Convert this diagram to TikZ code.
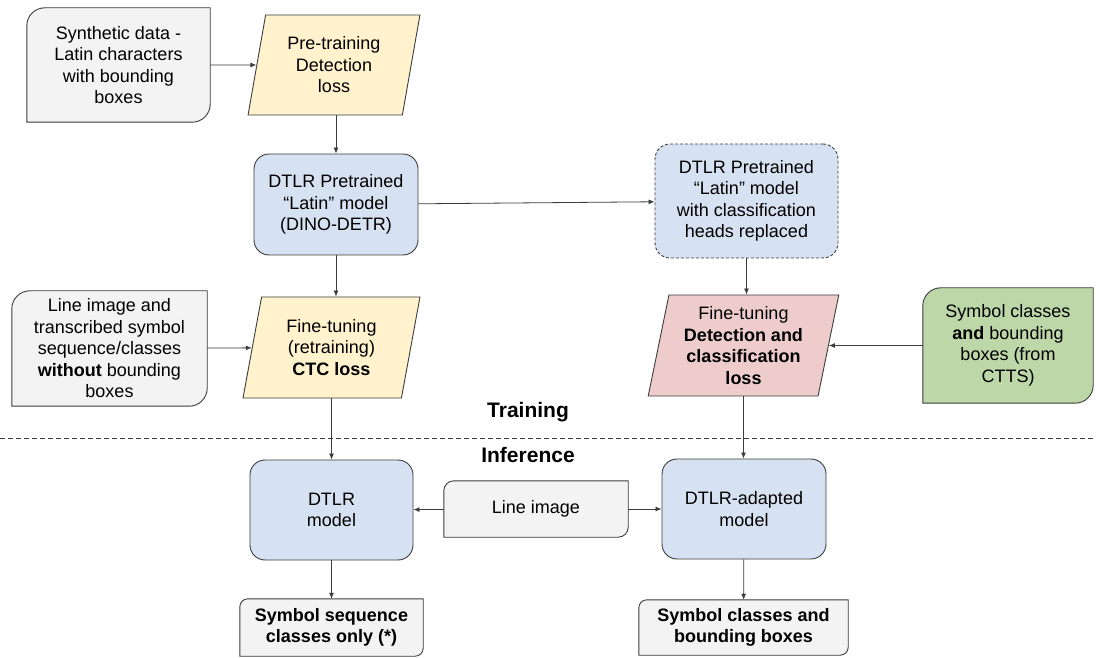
\documentclass[tikz,border=0pt]{standalone}
\usepackage{fontspec}
\setmainfont{Liberation Sans}
\usetikzlibrary{shapes.geometric,arrows.meta,backgrounds}

\definecolor{lineclr}{HTML}{3C3C3C}
\definecolor{grayfill}{HTML}{F3F3F3}
\definecolor{yelfill}{HTML}{FFF2CC}
\definecolor{bluefill}{HTML}{D6E2F2}
\definecolor{redfill}{HTML}{EECCCC}
\definecolor{grnfill}{HTML}{BDD7A9}

\tikzset{
  every node/.style={font=\fontsize{18}{21.5}\selectfont, align=center, text=black},
  boxline/.style={draw=lineclr, line width=0.9pt},
  inbox/.style={rectangle, draw=none, inner sep=0pt},
  para/.style={trapezium, trapezium left angle=78, trapezium right angle=102,
    trapezium stretches=true, boxline, inner sep=0pt},
  model/.style={rectangle, rounded corners=15pt, boxline, fill=bluefill, inner sep=0pt},
  arr/.style={draw=lineclr, line width=0.8pt, -{Latex[length=6pt,width=5pt]}},
  sepline/.style={draw=lineclr, line width=0.8pt, dash pattern=on 5pt off 3pt},
  phase/.style={font=\fontsize{21}{25}\selectfont\bfseries},
}

% box with rounded top-left and bottom-right corners, drawn behind a node
\newcommand{\rdbox}[3]{%
  \begin{pgfonlayer}{background}
    \filldraw[boxline, fill=#3] (#1.south west) -- ([yshift=-#2]#1.north west)
      arc[start angle=180, end angle=90, radius=#2] -- (#1.north east)
      -- ([yshift=#2]#1.south east) arc[start angle=0, end angle=-90, radius=#2] -- cycle;
  \end{pgfonlayer}}

\begin{document}
\begin{tikzpicture}[x=1pt,y=1pt]
\useasboundingbox (0,0) rectangle (1096,657);

% training: pre-training branch
\node[inbox, minimum width=183pt, minimum height=114pt] (syn) at (118.5,592)
  {Synthetic data -\\Latin characters\\with bounding\\boxes};
\rdbox{syn}{18pt}{grayfill}
\node[para, fill=yelfill, minimum width=172pt, minimum height=100pt] (pre) at (334,592)
  {Pre-training\\Detection\\loss};
\node[model, minimum width=164pt, minimum height=101pt] (dpre) at (336,452.5)
  {DTLR Pretrained\\“Latin” model\\(DINO-DETR)};
\node[model, dash pattern=on 3pt off 2pt, minimum width=183pt, minimum height=114pt] (drep) at (746.5,456)
  {DTLR Pretrained\\“Latin” model\\with classification\\heads replaced};

% training: fine-tuning
\node[inbox, minimum width=195pt, minimum height=115pt] (lin1) at (109.5,308.5)
  {Line image and\\transcribed symbol\\sequence/classes\\\textbf{without} bounding\\boxes};
\rdbox{lin1}{18pt}{grayfill}
\node[para, fill=yelfill, minimum width=177pt, minimum height=101pt] (ctc) at (331.5,309.5)
  {Fine-tuning\\(retraining)\\\textbf{CTC loss}};
\node[para, fill=redfill, minimum width=191pt, minimum height=101pt] (ftd) at (743.5,311.5)
  {Fine-tuning\\\textbf{Detection and}\\\textbf{classification}\\\textbf{loss}};
\node[inbox, minimum width=170pt, minimum height=115pt] (grn) at (1008,311.5)
  {Symbol classes\\\textbf{and} bounding\\boxes (from\\CTTS)};
\rdbox{grn}{18pt}{grnfill}

% phase separator
\coordinate (sepL) at (0,219);
\coordinate (sepR) at (1096,219);
\draw[sepline] (sepL) -- (sepR);
\node[phase] (trainlbl) at (528,245) {Training};
\node[phase] (inflbl) at (528,202) {Inference};

% inference
\node[model, minimum width=163pt, minimum height=100pt] (dm) at (331.5,147) {DTLR\\model};
\node[inbox, minimum width=184pt, minimum height=56pt] (lim) at (536,148) {Line image};
\rdbox{lim}{10pt}{grayfill}
\node[model, minimum width=164pt, minimum height=100pt] (dad) at (744,148) {DTLR-adapted\\model};
\node[inbox, minimum width=183pt, minimum height=57pt] (out1) at (331.5,29.5)
  {\textbf{Symbol sequence}\\\textbf{classes only (*)}};
\rdbox{out1}{8pt}{grayfill}
\node[inbox, minimum width=209pt, minimum height=55pt] (out2) at (743.5,29.5)
  {\textbf{Symbol classes and}\\\textbf{bounding boxes}};
\rdbox{out2}{8pt}{grayfill}

% connectors
\draw[arr] (syn) -- (pre);
\draw[arr] (dpre.north |- pre.south) -- (dpre.north);
\draw[arr] (dpre) -- (drep);
\draw[arr] (dpre.south) -- (dpre.south |- ctc.north);
\draw[arr] (drep.south) -- (drep.south |- ftd.north);
\draw[arr] (lin1) -- (ctc);
\draw[arr] (grn) -- (ftd);
\draw[arr] (ctc.center |- ctc.south) -- (ctc.center |- dm.north);
\draw[arr] (ftd.center |- ftd.south) -- (ftd.center |- dad.north);
\draw[arr] (lim) -- (dm);
\draw[arr] (lim) -- (dad);
\draw[arr] (dm) -- (out1);
\draw[arr] (dad) -- (out2);
\end{tikzpicture}
\end{document}
